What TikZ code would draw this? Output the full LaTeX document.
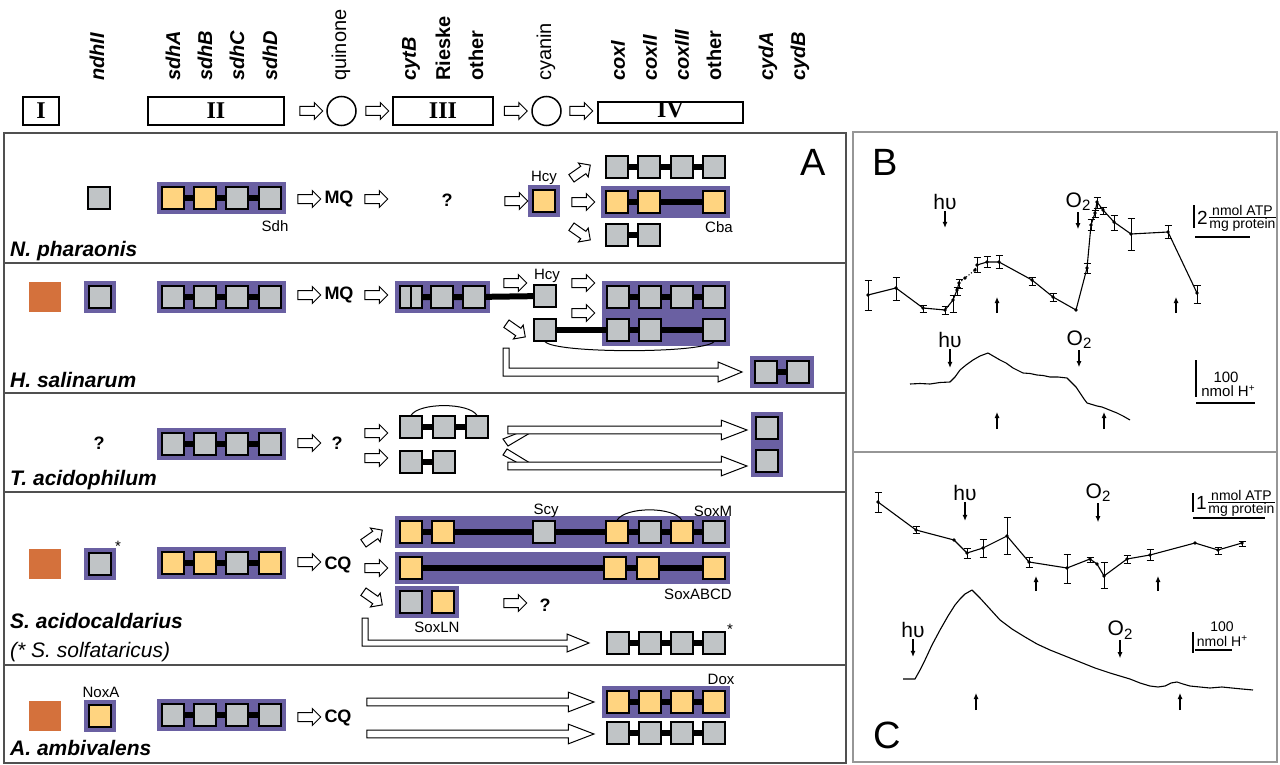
\documentclass[tikz,border=0pt]{standalone}
\usepackage{fontspec}
\setmainfont{Liberation Sans}
\newfontfamily\numfont{Liberation Serif}
\usepackage{xcolor}
\usepackage{tikz}
\usetikzlibrary{arrows.meta, positioning, shapes.geometric, shapes.arrows, fit, backgrounds}
\definecolor{bgpurple}{RGB}{106,96,162}
\definecolor{geneyel}{RGB}{255,212,128}
\definecolor{genegray}{RGB}{192,196,198}
\definecolor{ndhorange}{RGB}{212,113,60}
\definecolor{framegray}{RGB}{80,80,80}
\definecolor{panelgray}{RGB}{150,150,150}
\newcommand{\fsz}[1]{\fontsize{#1}{#1}\selectfont}
\newcommand{\otwo}{O\raisebox{-0.3ex}{\fsz{15}2}}
\newcommand{\hplus}{H\raisebox{0.7ex}{\fsz{10}+}}

\begin{document}
\begin{tikzpicture}[x=1pt, y=-1pt, font=\fsz{15},
        gene/.style={draw, line width=1.3pt, minimum width=22, minimum height=22, inner sep=0},
        gy/.style={gene, fill=geneyel},
        gg/.style={gene, fill=genegray},
        pbg/.style={fill=bgpurple, inner sep=4.5},
        orsq/.style={fill=ndhorange, minimum width=32, minimum height=30, inner sep=0},
        bar/.style={line width=6pt},
        oarr/.style={single arrow, draw, fill=white, line width=1pt, minimum height=23,
                     single arrow head extend=4, inner xsep=0, inner ysep=4},
        larr/.style={single arrow, draw, fill=white, line width=1pt,
                     single arrow head extend=6, single arrow tip angle=42, inner xsep=0, inner ysep=3.3},
        oline/.style={draw, fill=white, line width=1pt},
        qn/.style={font=\fsz{18}\bfseries},
        sp/.style={font=\fsz{21}\bfseries\itshape, anchor=base west, inner sep=0},
        hd/.style={font=\fsz{20}\bfseries\itshape, rotate=90, anchor=west, inner sep=0},
        cx/.style={draw, line width=1.5pt, minimum height=28, inner sep=0, font=\fsz{24}\numfont\bfseries},
        big/.style={font=\fsz{38}},
        trace/.style={line width=1.1pt, line join=round},
        ebar/.style={line width=1pt},
        lab/.style={font=\fsz{21}, inner sep=1},
        sarr/.style={line width=1.1pt, -{Latex[length=6pt,width=5pt]}}]
  \useasboundingbox (0,0) rectangle (1280,765);

  \foreach \x/\t in {97/ndhII,173/sdhA,205/sdhB,237/sdhC,270/sdhD,411/cytB,
                     618/coxI,650/coxII,682/coxIII,768/cydA,800/cydB}
    \node[hd] (h\t) at (\x,81) {\t};
  \node[hd, font=\fsz{20}] (hquin) at (341,81) {quinone};
  \node[hd, font=\fsz{20}\bfseries] (hrie) at (443,81) {Rieske};
  \node[hd, font=\fsz{20}\bfseries] (hoth1) at (476,81) {other};
  \node[hd, font=\fsz{20}] (hcyan) at (546,81) {cyanin};
  \node[hd, font=\fsz{20}\bfseries] (hoth2) at (714,81) {other};
  \node[cx, minimum width=36] (cI) at (41,111) {I};
  \node[cx, minimum width=136] (cII) at (216,111) {II};
  \node[oarr] (ha1) at (309,111) {};
  \node[draw, circle, line width=1.5pt, minimum size=29, inner sep=0] (quin) at (341.5,111) {};
  \node[oarr] (ha2) at (375,111) {};
  \node[cx, minimum width=100] (cIII) at (443,111) {III};
  \node[oarr] (ha3) at (513.5,111) {};
  \node[draw, circle, line width=1.5pt, minimum size=29, inner sep=0] (cyan) at (546.5,111) {};
  \node[oarr] (ha4) at (579,111) {};
  \node[cx, minimum width=145, minimum height=21] (cIV) at (670.5,112.5) {};
  \node[font=\fsz{24}\numfont\bfseries, inner sep=0] (cIVt) at (670.5,110) {IV};

  \draw[line width=1.5pt, framegray] (4,133) rectangle (846,763);
  \foreach \y in {263,393,492,665}
    \draw[line width=1.5pt, framegray] (4,\y) -- (846,\y);
  \node[big] (lblA) at (813,162) {A};

  % N. pharaonis
  \node[gg] (p1ndh) at (99,198) {};
  \foreach \i/\x/\c in {1/173/gy,2/205/gy,3/237/gg,4/270/gg}
    \node[\c] (p1s\i) at (\x,198) {};
  \draw[bar] (p1s1) -- (p1s2) -- (p1s3) -- (p1s4);
  \node (p1sdh) at (275,226) {Sdh};
  \node[oarr] (p1a1) at (307,199) {};
  \node[qn] (p1mq) at (339,199) {MQ};
  \node[oarr] (p1a2) at (374,199) {};
  \node[qn] (p1q) at (447,200) {?};
  \node[oarr] (p1a3) at (514,201) {};
  \node[gy] (p1hcy) at (544,201) {};
  \node (p1hl) at (544,178) {Hcy};
  \node[oarr, rotate=35] (p1a4) at (579,173) {};
  \node[oarr] (p1a5) at (581,202) {};
  \node[oarr, rotate=-35] (p1a6) at (579,232) {};
  \foreach \i/\x in {1/617,2/649,3/682,4/714}
    \node[gg] (p1t\i) at (\x,167) {};
  \draw[bar] (p1t1) -- (p1t2) -- (p1t3) -- (p1t4);
  \foreach \i/\x in {1/617,2/649,3/714}
    \node[gy] (p1c\i) at (\x,202) {};
  \draw[bar] (p1c1) -- (p1c2) -- (p1c3);
  \node (p1cba) at (719,227) {Cba};
  \node[gg] (p1b1) at (617,235) {};
  \node[gg] (p1b2) at (649,235) {};
  \draw[bar] (p1b1) -- (p1b2);
  \node[sp] (p1name) at (10,256) {N. pharaonis};

  % H. salinarum
  \node[orsq] (p2or) at (45,297) {};
  \node[gg] (p2ndh) at (100,297) {};
  \foreach \i/\x in {1/173,2/205,3/237,4/270}
    \node[gg] (p2s\i) at (\x,297) {};
  \draw[bar] (p2s1) -- (p2s2) -- (p2s3) -- (p2s4);
  \node[oarr] (p2a1) at (307,295) {};
  \node[qn] (p2mq) at (339,295) {MQ};
  \node[oarr] (p2a2) at (374,295) {};
  \node[gg] (p2c1) at (411,297) {};
  \draw[line width=1.3pt] (p2c1.north) -- (p2c1.south);
  \node[gg] (p2c2) at (442,297) {};
  \node[gg] (p2c3) at (474,297) {};
  \node[gg] (p2h1) at (545,296) {};
  \draw[bar] (p2c1) -- (p2c2) -- (p2c3) -- (p2h1);
  \node (p2hl) at (547,276) {Hcy};
  \node[oarr] (p2a3) at (513,283) {};
  \node[oarr, rotate=-35] (p2a4) at (514,329) {};
  \node[oarr] (p2a5) at (581,283) {};
  \node[oarr] (p2a6) at (581,313) {};
  \foreach \i/\x in {1/618,2/650,3/682,4/714}
    \node[gg] (p2t\i) at (\x,297) {};
  \draw[bar] (p2t1) -- (p2t2) -- (p2t3) -- (p2t4);
  \node[gg] (p2h2) at (545,330) {};
  \foreach \i/\x in {1/618,2/650,3/714}
    \node[gg] (p2l\i) at (\x,330) {};
  \draw[bar] (p2h2) -- (p2l1) -- (p2l2) -- (p2l3);
  \draw[line width=1pt] (p2h2.south) .. controls +(10,12) and +(-10,12) .. (p2l3.south);
  \draw[oline] (503,348) -- (509,348) -- (509,368) -- (718,368) -- (718,362) -- (742,372)
    -- (718,382) -- (718,376) -- (503,376) -- cycle;
  \node[gg] (p2f1) at (766,372) {};
  \node[gg] (p2f2) at (798,372) {};
  \draw[bar] (p2f1) -- (p2f2);
  \node[sp] (p2name) at (10,387) {H. salinarum};

  % T. acidophilum
  \node[qn] (p3q1) at (99,443) {?};
  \foreach \i/\x in {1/173,2/205,3/237,4/270}
    \node[gg] (p3s\i) at (\x,444) {};
  \draw[bar] (p3s1) -- (p3s2) -- (p3s3) -- (p3s4);
  \node[oarr] (p3a1) at (307,443) {};
  \node[qn] (p3q2) at (337,443) {?};
  \node[oarr] (p3a2) at (374,433) {};
  \node[oarr] (p3a3) at (374,458) {};
  \foreach \i/\x in {1/411,2/444,3/477}
    \node[gg] (p3u\i) at (\x,427) {};
  \draw[bar] (p3u1) -- (p3u2) -- (p3u3);
  \draw[line width=1pt] (p3u1.north) .. controls +(8,-13) and +(-8,-13) .. (p3u3.north);
  \node[gg] (p3l1) at (411,462) {};
  \node[gg] (p3l2) at (444,462) {};
  \draw[bar] (p3l1) -- (p3l2);
  \draw[oline] (518,433) -- (530,433) -- (508,446) -- (503,439) -- cycle;
  \draw[oline] (503,455) -- (507,449) -- (530,463) -- (518,463) -- cycle;
  \node[larr, minimum height=239] (p3la1) at (622.5,430) {};
  \node[larr, minimum height=239] (p3la2) at (622.5,466) {};
  \node[gg] (p3f1) at (767,428) {};
  \node[gg] (p3f2) at (767,461) {};
  \node[sp] (p3name) at (10,485) {T. acidophilum};

  % S. acidocaldarius
  \node[orsq] (p4or) at (45,564) {};
  \node[gg] (p4ndh) at (100,564) {};
  \node (p4ast1) at (118,546) {*};
  \foreach \i/\x/\c in {1/173/gy,2/205/gy,3/237/gg,4/270/gy}
    \node[\c] (p4s\i) at (\x,563) {};
  \draw[bar] (p4s1) -- (p4s2) -- (p4s3) -- (p4s4);
  \node[oarr] (p4a1) at (307,562) {};
  \node[qn] (p4cq) at (338,565) {CQ};
  \node[oarr, rotate=35] (p4a2) at (371,538) {};
  \node[oarr] (p4a3) at (374,568) {};
  \node[oarr, rotate=-35] (p4a4) at (371,597) {};
  \foreach \i/\x/\c in {1/411/gy,2/443/gy,3/544/gg,4/617/gy,5/650/gg,6/682/gy,7/714/gg}
    \node[\c] (p4m\i) at (\x,532) {};
  \draw[bar] (p4m1) -- (p4m2) -- (p4m3) -- (p4m4) -- (p4m5) -- (p4m6) -- (p4m7);
  \draw[line width=1pt] (p4m4.north) .. controls +(8,-14) and +(-8,-14) .. (p4m6.north);
  \node (p4scy) at (546,511) {Scy};
  \node (p4soxm) at (713,511) {SoxM};
  \foreach \i/\x in {1/411,2/615,3/648,4/714}
    \node[gy] (p4d\i) at (\x,568) {};
  \draw[bar] (p4d1) -- (p4d2) -- (p4d3) -- (p4d4);
  \node (p4abcd) at (698,594) {SoxABCD};
  \node[gg] (p4n1) at (411,602) {};
  \node[gy] (p4n2) at (443,602) {};
  \node (p4ln) at (437,627) {SoxLN};
  \node[oarr] (p4a5) at (513,603) {};
  \node[qn] (p4q) at (545,605) {?};
  \draw[oline] (362,618) -- (368,618) -- (368,640) -- (567,640) -- (567,634) -- (589,643)
    -- (567,652) -- (567,646) -- (362,646) -- cycle;
  \foreach \i/\x in {1/618,2/650,3/682,4/714}
    \node[gg] (p4f\i) at (\x,643) {};
  \draw[bar] (p4f1) -- (p4f2) -- (p4f3) -- (p4f4);
  \node (p4ast2) at (730,629) {*};
  \node[sp] (p4name) at (10,628) {S. acidocaldarius};
  \node[sp, font=\fsz{21}\itshape] (p4name2) at (10,657) {(* S. solfataricus)};

  % A. ambivalens
  \node[orsq] (p5or) at (45,716) {};
  \node[gy] (p5nox) at (100,716) {};
  \node (p5noxl) at (101,692) {NoxA};
  \foreach \i/\x in {1/173,2/205,3/237,4/270}
    \node[gg] (p5s\i) at (\x,715) {};
  \draw[bar] (p5s1) -- (p5s2) -- (p5s3) -- (p5s4);
  \node[oarr] (p5a1) at (307,717) {};
  \node[qn] (p5cq) at (338,718) {CQ};
  \node[larr, minimum height=227] (p5la1) at (475.5,702) {};
  \node[larr, minimum height=227] (p5la2) at (475.5,734) {};
  \foreach \i/\x in {1/618,2/650,3/682,4/714}
    \node[gy] (p5d\i) at (\x,702) {};
  \draw[bar] (p5d1) -- (p5d2) -- (p5d3) -- (p5d4);
  \node (p5dox) at (721,679) {Dox};
  \foreach \i/\x in {1/618,2/650,3/682,4/714}
    \node[gg] (p5g\i) at (\x,733) {};
  \draw[bar] (p5g1) -- (p5g2) -- (p5g3) -- (p5g4);
  \node[sp] (p5name) at (10,755) {A. ambivalens};

  \begin{scope}[on background layer]
    \node[pbg, fit=(p1s1)(p1s4)] (p1sbg) {};
    \node[pbg, fit=(p1hcy)] (p1hbg) {};
    \node[pbg, fit=(p1c1)(p1c3)] (p1cbg) {};
    \node[pbg, fit=(p2ndh)] (p2nbg) {};
    \node[pbg, fit=(p2s1)(p2s4)] (p2sbg) {};
    \node[pbg, fit=(p2c1)(p2c3)] (p2cbg) {};
    \node[pbg, fit=(p2t1)(p2l3)] (p2tbg) {};
    \node[pbg, fit=(p2f1)(p2f2)] (p2fbg) {};
    \node[pbg, fit=(p3s1)(p3s4)] (p3sbg) {};
    \node[pbg, fit=(p3f1)(p3f2)] (p3fbg) {};
    \node[pbg, fit=(p4ndh)] (p4nbg) {};
    \node[pbg, fit=(p4s1)(p4s4)] (p4sbg) {};
    \node[pbg, fit=(p4m1)(p4m7)] (p4mbg) {};
    \node[pbg, fit=(p4d1)(p4d4)] (p4dbg) {};
    \node[pbg, fit=(p4n1)(p4n2)] (p4lbg) {};
    \node[pbg, fit=(p5nox)] (p5nbg) {};
    \node[pbg, fit=(p5s1)(p5s4)] (p5sbg) {};
    \node[pbg, fit=(p5d1)(p5d4)] (p5dbg) {};
  \end{scope}

  % B and C
  \draw[line width=1.2pt, panelgray] (853,132) rectangle (1277,452);
  \draw[line width=1.2pt, panelgray] (853,452) rectangle (1277,762);
  \node[big] (lblB) at (885,162) {B};
  \node[big] (lblC) at (887,735) {C};

  \draw[trace] (868,295) -- (896,288) -- (923,308) -- (945,310) -- (953,300) -- (957,290) -- (959,283);
  \draw[trace, dotted] (959,283) -- (965,278) -- (975,270) -- (977,265);
  \draw[trace] (977,265) -- (987,262) -- (999,262) -- (1032,280) -- (1053,297) -- (1076,310)
    -- (1087,268) -- (1091,225) -- (1095,213) -- (1097,202) -- (1103,210) -- (1114,222)
    -- (1131,234) -- (1168,232) -- (1197,293);
  \foreach \x/\y/\lo/\hi in {868/295/280/310,896/288/277/300,923/308/305/312,945/310/306/314,
      953/300/295/312,957/290/287/295,959/283/279/288,977/265/257/272,987/262/256/267,
      999/262/255/268,1032/280/277/285,1053/297/293/301,1087/268/263/273,1091/225/219/230,
      1095/213/210/217,1097/202/197/208,1103/210/207/214,1114/222/215/230,1131/234/218/250,
      1168/232/225/238,1197/293/285/303}
    \draw[ebar] (\x-3.5,\lo) -- (\x+3.5,\lo) (\x,\lo) -- (\x,\hi) (\x-3.5,\hi) -- (\x+3.5,\hi);
  \foreach \x/\y in {868/295,896/288,923/308,945/310,953/300,957/290,959/283,965/278,975/270,
      977/265,987/262,999/262,1032/280,1053/297,1076/310,1087/268,1091/225,1095/213,1097/202,
      1103/210,1114/222,1131/234,1168/232,1197/293}
    \fill (\x,\y) circle (1.8);
  \node[lab] (b1hv) at (945,202) {hυ};
  \draw[sarr] (b1hv.south) -- +(0,17);
  \node[lab] (b1o2) at (1078,202) {\otwo};
  \draw[sarr] (b1o2.south) -- +(0,17);
  \coordinate (b1u1) at (997,313);
  \coordinate (b1u2) at (1176,313);
  \draw[sarr] (b1u1) -- +(0,-16);
  \draw[sarr] (b1u2) -- +(0,-16);
  \draw[line width=1.1pt] (1194,205) -- (1194,228);
  \node[anchor=west, inner sep=0, font=\fsz{19}] (b1k) at (1197,218) {2};
  \node[anchor=west, inner sep=0, font=\fsz{19}] (b1fr) at (b1k.east)
    {$\frac{\hbox{\fsz{14}nmol ATP}}{\hbox{\fsz{14}mg protein}}$};
  \draw[line width=1.1pt] (1195,237) -- (1250,237);

  \draw[trace] (910,384) -- (920,383.5) -- (930,384) -- (940,382.5) -- (950,382) -- (955,377)
    -- (960,370) -- (966,365) -- (973,360) -- (980,356) -- (988,353) -- (994,356.5) -- (1000,360)
    -- (1006,363) -- (1013,368) -- (1018,370.5) -- (1023,373) -- (1030,373.5) -- (1037,375)
    -- (1043,375.5) -- (1050,377) -- (1058,377) -- (1067,378) -- (1072,383) -- (1076,387)
    -- (1080,393) -- (1084,399) -- (1087,403) -- (1092,404.5) -- (1097,406) -- (1102,407)
    -- (1107,409) -- (1112,411) -- (1117,413) -- (1123,416) -- (1130,420);
  \node[lab] (b2hv) at (950,340) {hυ};
  \draw[sarr] (b2hv.south) -- +(0,19);
  \node[lab] (b2o2) at (1079,340) {\otwo};
  \draw[sarr] (b2o2.south) -- +(0,17);
  \coordinate (b2u1) at (997,429);
  \coordinate (b2u2) at (1104,429);
  \draw[sarr] (b2u1) -- +(0,-17);
  \draw[sarr] (b2u2) -- +(0,-17);
  \draw[line width=1.1pt] (1196,360) -- (1196,397);
  \node[inner sep=0, font=\fsz{15}] (b2k) at (1226,377) {100};
  \node[inner sep=0, font=\fsz{15}] (b2u) at (1228,391) {nmol \hplus};
  \draw[line width=1.1pt] (1196,403) -- (1255,403);

  \draw[trace] (878,502) -- (916,530) -- (954,540) -- (967,553) -- (983,548) -- (1007,536)
    -- (1029,562) -- (1067,568) -- (1090,559) -- (1097,564) -- (1104,576) -- (1127,559)
    -- (1150,555) -- (1195,543) -- (1218,550) -- (1242,543);
  \foreach \x/\y/\lo/\hi in {878/502/492/512,916/530/526/533,967/553/548/558,983/548/539/557,
      1007/536/517/554,1029/562/557/567,1067/568/554/583,1090/559/557/562,1104/576/562/588,
      1127/559/555/563,1150/555/549/560,1218/550/547/554,1242/543/541/546}
    \draw[ebar] (\x-3.5,\lo) -- (\x+3.5,\lo) (\x,\lo) -- (\x,\hi) (\x-3.5,\hi) -- (\x+3.5,\hi);
  \foreach \x/\y in {878/502,916/530,954/540,967/553,983/548,1007/536,1029/562,1067/568,
      1090/559,1097/564,1104/576,1127/559,1150/555,1195/543,1218/550,1242/543}
    \fill (\x,\y) circle (1.8);
  \node[lab] (c1hv) at (965,493) {hυ};
  \draw[sarr] (c1hv.south) -- +(0,19);
  \node[lab] (c1o2) at (1098,493) {\otwo};
  \draw[sarr] (c1o2.south) -- +(0,19);
  \coordinate (c1u1) at (1036,591);
  \coordinate (c1u2) at (1158,591);
  \draw[sarr] (c1u1) -- +(0,-15);
  \draw[sarr] (c1u2) -- +(0,-15);
  \draw[line width=1.1pt] (1193,493) -- (1193,512);
  \node[anchor=west, inner sep=0, font=\fsz{19}] (c1k) at (1196,503) {1};
  \node[anchor=west, inner sep=0, font=\fsz{19}] (c1fr) at (c1k.east)
    {$\frac{\hbox{\fsz{14}nmol ATP}}{\hbox{\fsz{14}mg protein}}$};
  \draw[line width=1.1pt] (1193,518) -- (1265,518);

  \draw[trace] (903,679) -- (915,679) -- (920,670) -- (925,660) -- (932,645) -- (940,630)
    -- (948,616) -- (955,605) -- (960,599) -- (965,594) -- (972,590) -- (976,594) -- (980,598)
    -- (990,609) -- (1000,620) -- (1012,629) -- (1025,637) -- (1037,644) -- (1050,650)
    -- (1065,656) -- (1080,662) -- (1095,668) -- (1110,673) -- (1120,676) -- (1130,679)
    -- (1140,683) -- (1150,686) -- (1158,687) -- (1165,686) -- (1171,683) -- (1177,682)
    -- (1183,684) -- (1190,686) -- (1200,687) -- (1210,688) -- (1222,687) -- (1232,688)
    -- (1242,689) -- (1253,690);
  \node[lab] (c2hv) at (913,630) {hυ};
  \draw[sarr] (c2hv.south) -- +(0,18);
  \node[lab] (c2o2) at (1120,630) {\otwo};
  \draw[sarr] (c2o2.south) -- +(0,18);
  \coordinate (c2u1) at (976,710);
  \coordinate (c2u2) at (1180,710);
  \draw[sarr] (c2u1) -- +(0,-17);
  \draw[sarr] (c2u2) -- +(0,-17);
  \draw[line width=1.1pt] (1193,632) -- (1193,653);
  \node[inner sep=0, font=\fsz{14}] (c2k) at (1222,627) {100};
  \node[inner sep=0, font=\fsz{14}] (c2u) at (1222,641) {nmol \hplus};
  \draw[line width=1.1pt] (1195,650) -- (1232,650);
\end{tikzpicture}
\end{document}
